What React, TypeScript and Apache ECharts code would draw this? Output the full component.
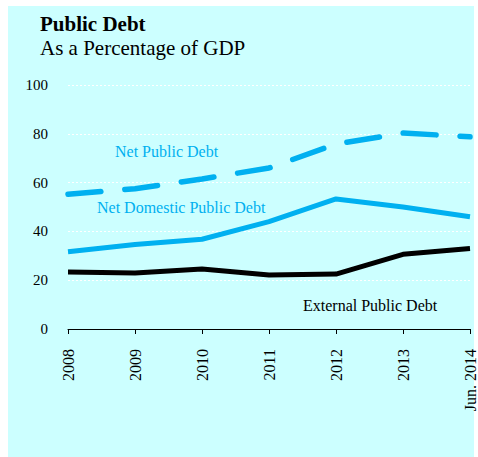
import React, { useEffect, useRef } from "react";
import * as echarts from "echarts";

const categories = ["2008", "2009", "2010", "2011", "2012", "2013", "Jun. 2014"];
const netPublicDebt = [55.2, 57.5, 61.5, 66.0, 75.8, 80.3, 78.8];
const netDomesticPublicDebt = [31.7, 34.6, 36.8, 44.0, 53.3, 50.0, 46.0];
const externalPublicDebt = [23.4, 23.0, 24.6, 22.1, 22.5, 30.6, 33.0];
const yTicks = { min: 0, max: 100, interval: 20 };

const CYAN = "#00B0F0";
const FONT = "'Liberation Serif', 'Times New Roman', serif";

export default function App() {
  const ref = useRef<HTMLDivElement>(null);
  useEffect(() => {
    if (!ref.current) return;
    const chart = echarts.init(ref.current, null, { renderer: "svg" });
    chart.setOption({
      animation: false,
      textStyle: { fontFamily: FONT },
      grid: { left: 68, right: 6, top: 85, bottom: 128, containLabel: false },
      xAxis: {
        type: "category",
        data: categories,
        boundaryGap: false,
        axisLine: { lineStyle: { color: "#000", width: 1 } },
        axisTick: { show: true, length: 5, lineStyle: { color: "#000" } },
        axisLabel: { rotate: 90, margin: 20, fontSize: 16, color: "#000", fontFamily: FONT },
        splitLine: { show: false },
      },
      yAxis: {
        type: "value",
        min: yTicks.min,
        max: yTicks.max,
        interval: yTicks.interval,
        axisLine: { show: false },
        axisTick: { show: false },
        axisLabel: { margin: 20, fontSize: 15, color: "#000", fontFamily: FONT },
        splitLine: { show: true, lineStyle: { color: "#ffffff", type: [2, 2], width: 1 } },
      },
      series: [
        {
          name: "Net Public Debt",
          type: "line",
          data: netPublicDebt,
          symbol: "none",
          lineStyle: { color: CYAN, width: 5.5, type: [33, 24], cap: "round" },
        },
        {
          name: "Net Domestic Public Debt",
          type: "line",
          data: netDomesticPublicDebt,
          symbol: "none",
          lineStyle: { color: CYAN, width: 5 },
        },
        {
          name: "External Public Debt",
          type: "line",
          data: externalPublicDebt,
          symbol: "none",
          lineStyle: { color: "#000", width: 5 },
        },
      ],
      graphic: [
        { type: "text", left: 40, top: 13, style: { text: "Public Debt", font: `bold 21px ${FONT}`, fill: "#000" } },
        { type: "text", left: 40, top: 37, style: { text: "As a Percentage of GDP", font: `21px ${FONT}`, fill: "#000" } },
        { type: "text", left: 115, top: 143, style: { text: "Net Public Debt", font: `16px ${FONT}`, fill: CYAN } },
        { type: "text", left: 97, top: 199, style: { text: "Net Domestic Public Debt", font: `16px ${FONT}`, fill: CYAN } },
        { type: "text", left: 303, top: 297, style: { text: "External Public Debt", font: `16px ${FONT}`, fill: "#000" } },
      ],
    });
    return () => chart.dispose();
  }, []);
  return (
    <div style={{ position: "fixed", left: 0, top: 0, width: 478, height: 457, background: "#fff" }}>
      <div style={{ position: "absolute", left: 8, top: 6, width: 466, height: 451, background: "#CCFFFF" }} />
      <div ref={ref} style={{ position: "absolute", left: 0, top: 0, width: 478, height: 457 }} />
    </div>
  );
}
